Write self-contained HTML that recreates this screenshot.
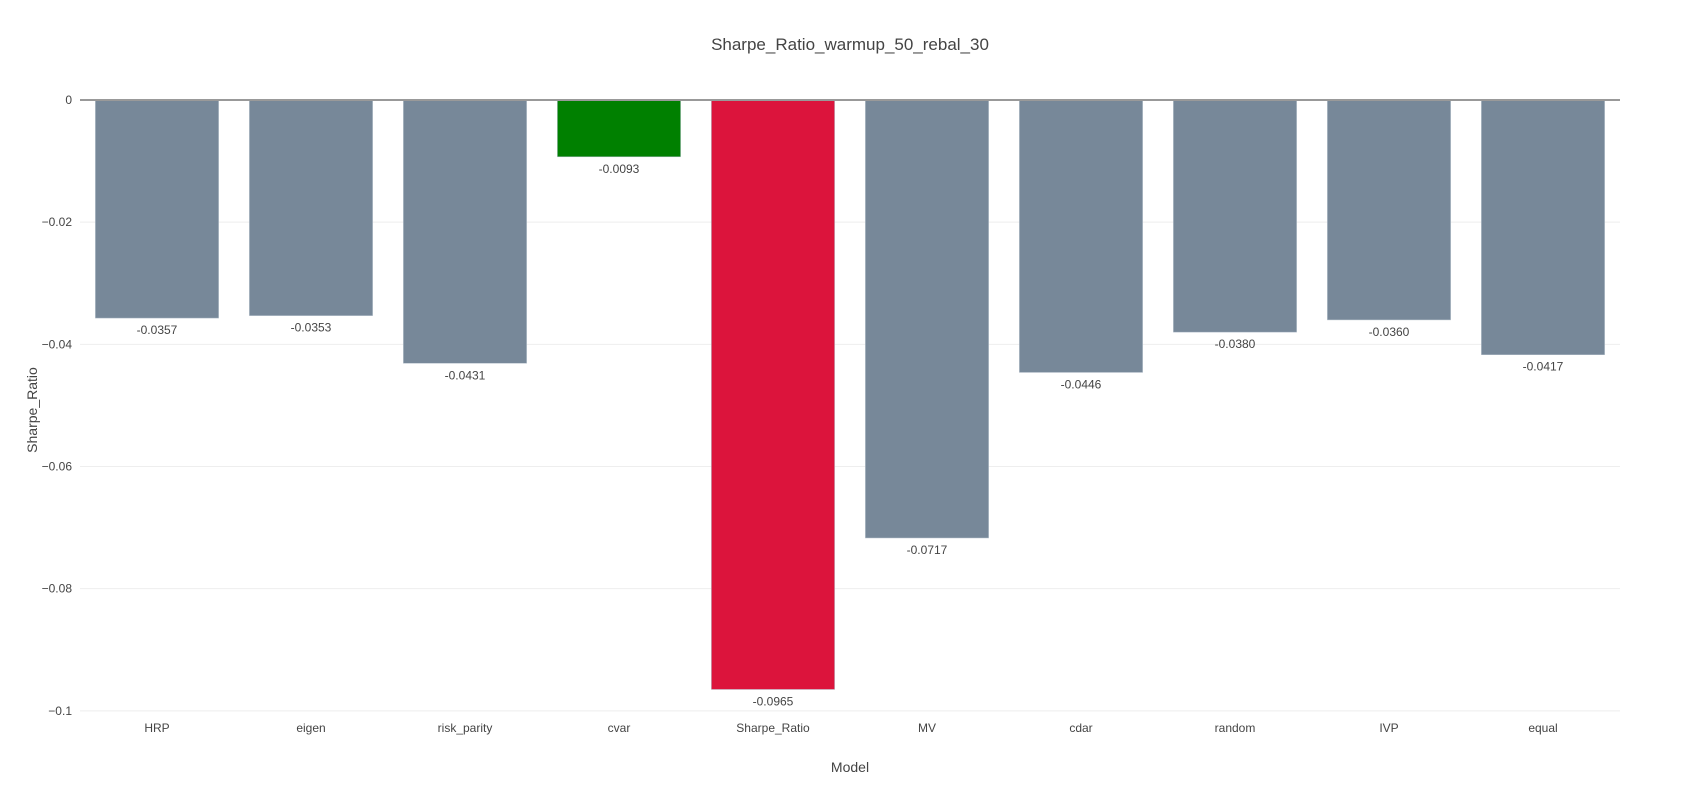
<!DOCTYPE html>
<html><head><meta charset="utf-8"><style>
body{margin:0;background:#fff}
svg{display:block;font-family:"Liberation Sans",sans-serif}
</style></head><body>
<svg id="chart" width="1700" height="800" viewBox="0 0 1700 800" xmlns="http://www.w3.org/2000/svg">
<rect width="1700" height="800" fill="#fff"/>
<text x="850" y="50" text-anchor="middle" font-size="17" fill="#444">Sharpe_Ratio_warmup_50_rebal_30</text>
<g id="grid"></g><g id="bars"></g><g id="labels"></g><g id="ticks"></g>
<text x="850" y="772" text-anchor="middle" font-size="14" fill="#444">Model</text>
<text transform="translate(37,410) rotate(-90)" text-anchor="middle" font-size="14" fill="#444">Sharpe_Ratio</text>
</svg>
<script>
const categories = ["HRP","eigen","risk_parity","cvar","Sharpe_Ratio","MV","cdar","random","IVP","equal"];
const values = [-0.0357,-0.0353,-0.0431,-0.0093,-0.0965,-0.0717,-0.0446,-0.0380,-0.0360,-0.0417];
const yTicks = [0,-0.02,-0.04,-0.06,-0.08,-0.1];
const yTickLabels = ["0","−0.02","−0.04","−0.06","−0.08","−0.1"];
const NS="http://www.w3.org/2000/svg";
const L=80,R=1620,T=100,B=720,yMin=-0.1015,yMax=0;
const y=v=>T+(yMax-v)/(yMax-yMin)*(B-T);
const band=(R-L)/categories.length;
const x=i=>L+band*i;
function mk(tag,attrs,parent){const e=document.createElementNS(NS,tag);for(const k in attrs)e.setAttribute(k,attrs[k]);document.getElementById(parent).appendChild(e);return e;}
yTicks.forEach((t,i)=>{
  if(t!==0){const g=mk('line',{x1:L,x2:R,y1:y(t),y2:y(t),stroke:'#eee','stroke-width':1},'grid');
  
  }
  const tx=mk('text',{x:L-8,y:y(t)+4,'text-anchor':'end','font-size':12,fill:'#444'},'ticks');
  tx.textContent=yTickLabels[i];
  
  
});
values.forEach((v,i)=>{
  const c=categories[i];
  const col=c==='cvar'?'#008000':(c==='Sharpe_Ratio'?'#dc143c':'#778899');
  const r=mk('rect',{x:x(i)+band*0.1,y:y(0),width:band*0.8,height:y(v)-y(0),fill:col,stroke:'#b0bcc8','stroke-width':0.5},'bars');
  
  
  const t=mk('text',{x:x(i)+band/2,y:y(v)+16,'text-anchor':'middle','font-size':12,fill:'#444'},'labels');
  t.textContent=v.toFixed(4);
  
  
  const xt=mk('text',{x:x(i)+band/2,y:B+12,'text-anchor':'middle','font-size':12,fill:'#444'},'ticks');
  xt.textContent=c;
  
  
});
const z=mk('line',{x1:L,x2:R,y1:y(0),y2:y(0),stroke:'#999','stroke-width':2},'ticks');


</script>
</body></html>
